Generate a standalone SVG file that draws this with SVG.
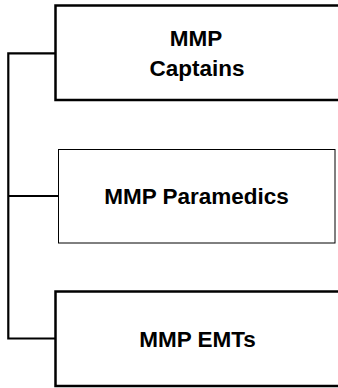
<svg xmlns="http://www.w3.org/2000/svg" width="338" height="388" viewBox="0 0 338 388">
<style>
.thick{fill:#fff;stroke:#000;stroke-width:2.5}
.thin{fill:#fff;stroke:#000;stroke-width:1}
.lbl{font-family:"Liberation Sans",Arial,sans-serif;font-weight:bold;font-size:22.5px;fill:#000;text-anchor:middle}
.conn{fill:none;stroke:#000;stroke-width:2.2}
</style>
<rect width="338" height="388" fill="#fff"/>
<g id="connectors">
<path class="conn" d="M8.3,53.3 H55.5 M8.3,52.2 V338.5 H55.5 M8.3,196 H58.5"/>
</g>
<g id="node-captains">
<rect class="thick" x="55.5" y="5.5" width="300" height="94.5"/>
<text class="lbl" x="196" y="46">MMP</text>
<text class="lbl" x="197" y="75.5">Captains</text>
</g>
<g id="node-paramedics">
<rect class="thin" x="58.5" y="149.5" width="276.5" height="93.5"/>
<text class="lbl" x="196.5" y="203.5">MMP Paramedics</text>
</g>
<g id="node-emts">
<rect class="thick" x="55.5" y="291.5" width="300" height="94.5"/>
<text class="lbl" x="197.5" y="346.5">MMP EMTs</text>
</g>
</svg>
